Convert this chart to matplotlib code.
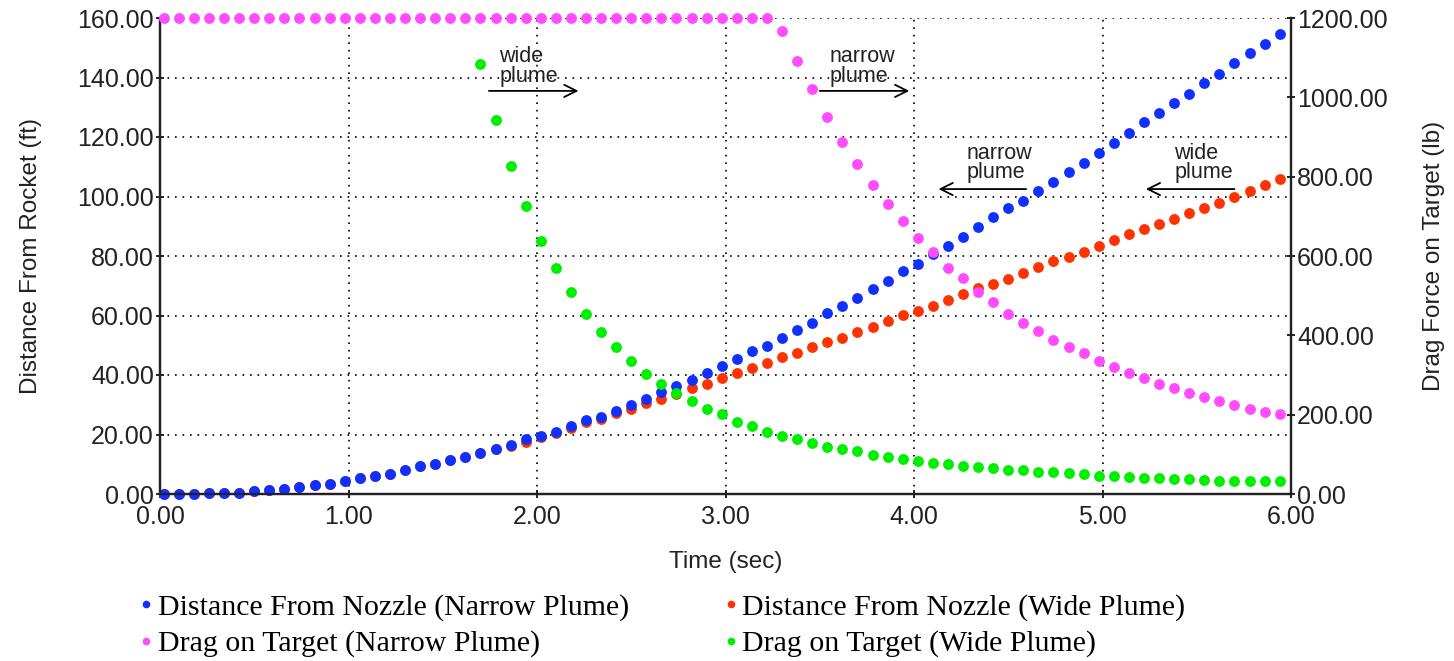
import numpy as np
import matplotlib.pyplot as plt
from matplotlib.lines import Line2D

# sample times (sec): 75 samples, 0.08 s apart
time = np.round(0.02 + 0.08 * np.arange(75), 2)

dist_narrow = [0.0, 0.0, 0.0, 0.2, 0.3, 0.4, 1.0, 1.5, 1.8, 2.4, 2.9, 3.5, 4.5, 5.5, 6.2,
               6.8, 8.1, 9.3, 10.0, 11.4, 12.5, 13.9, 15.1, 16.5, 18.4, 19.6, 20.9, 22.9,
               24.9, 26.0, 28.0, 29.9, 31.9, 34.4, 36.4, 38.3, 40.8, 43.0, 45.4, 48.1,
               49.9, 52.6, 55.1, 57.6, 61.0, 63.3, 66.0, 69.0, 71.7, 74.9, 77.4, 80.6,
               83.3, 86.3, 89.6, 93.0, 96.0, 98.6, 102.0, 105.0, 108.3, 111.4, 114.7,
               117.9, 121.2, 124.9, 128.2, 131.3, 134.5, 138.0, 141.1, 144.8, 148.1,
               151.3, 154.5]
dist_wide = [0.0, 0.0, 0.0, 0.2, 0.3, 0.4, 1.0, 1.5, 1.8, 2.4, 2.9, 3.5, 4.5, 5.5, 6.2,
             6.8, 8.1, 9.3, 10.0, 11.4, 12.5, 13.9, 15.0, 16.3, 17.4, 19.3, 20.5, 22.1,
             24.1, 25.1, 27.1, 28.6, 30.5, 31.8, 33.6, 35.7, 37.1, 39.0, 40.8, 42.2,
             43.9, 45.9, 47.3, 49.3, 51.2, 52.3, 54.3, 56.2, 58.2, 60.2, 61.5, 63.3,
             65.2, 67.2, 69.1, 70.5, 72.3, 74.2, 76.2, 78.4, 79.6, 81.5, 83.4, 85.4,
             87.3, 89.0, 90.8, 92.4, 94.3, 96.0, 97.9, 99.9, 101.8, 103.9, 105.8]
drag_narrow = [1200] * 41 + [1168, 1092, 1020, 951, 888, 832, 779, 731, 689, 645, 609,
                             571, 544, 508, 485, 455, 432, 412, 388, 370, 355, 335, 321,
                             306, 292, 277, 268, 254, 244, 234, 224, 214, 206, 201]
drag_wide = [np.nan] * 21 + [1083, 943, 828, 726, 638, 571, 508, 455, 408, 370, 335, 302,
                             278, 254, 234, 214, 201, 182, 171, 157, 147, 138, 128, 118,
                             113, 109, 98, 94, 88, 84, 79, 75, 71, 69, 65, 61, 60, 56,
                             55, 52, 50, 46, 45, 42, 41, 40, 37, 37, 36, 34, 33, 33, 32, 32]

labels = ['Distance From Nozzle (Narrow Plume)', 'Distance From Nozzle (Wide Plume)',
          'Drag on Target (Narrow Plume)', 'Drag on Target (Wide Plume)']
colors = ['#1030ff', '#ff3300', '#ff4cff', '#00ee00']

# plume notes: text position, arrow start, arrow end (time, distance)
notes = [('wide\nplume', (1.80, 150.5), (1.745, 135.5), (2.22, 135.5)),
         ('narrow\nplume', (3.55, 150.5), (3.50, 135.5), (3.975, 135.5)),
         ('narrow\nplume', (4.28, 118.0), (4.595, 102.5), (4.13, 102.5)),
         ('wide\nplume', (5.38, 118.0), (5.70, 102.5), (5.23, 102.5))]

SANS = 'Liberation Sans'
SERIF = 'Liberation Serif'
INK = '#222222'


def fmt(v, pos):
    return '%.2f' % v


def plot_chart():
    fig = plt.figure(figsize=(14.54, 6.61), dpi=100)
    ax = fig.add_axes([160 / 1454, 1 - 494 / 661, 1131 / 1454, 476 / 661])
    ax2 = ax.twinx()

    ms = 7.8
    ax.plot(time, dist_wide, 'o', color=colors[1], ms=ms, mew=0, clip_on=False, zorder=3)
    ax.plot(time, dist_narrow, 'o', color=colors[0], ms=ms, mew=0, clip_on=False, zorder=4)
    ax2.plot(time, drag_narrow, 'o', color=colors[2], ms=ms, mew=0, clip_on=False, zorder=3)
    ax2.plot(time, drag_wide, 'o', color=colors[3], ms=ms, mew=0, clip_on=False, zorder=4)

    ax.set_xlim(0, 6)
    ax.set_ylim(0, 160)
    ax2.set_ylim(0, 1200)
    ax.set_xticks(np.arange(0, 7, 1))
    ax.set_yticks(np.arange(0, 161, 20))
    ax2.set_yticks(np.arange(0, 1201, 200))
    for a in (ax.xaxis, ax.yaxis, ax2.yaxis):
        a.set_major_formatter(plt.FuncFormatter(fmt))

    ax.grid(True, color='black', linestyle=(0, (1, 3.5)), linewidth=1.2)
    ax.set_axisbelow(True)

    for a in (ax, ax2):
        a.spines['top'].set_visible(False)
        for s in ('left', 'right', 'bottom'):
            a.spines[s].set_linewidth(1.6)
            a.spines[s].set_color(INK)
        a.tick_params(direction='inout', length=6, width=1.4, color=INK,
                      labelsize=18, labelcolor=INK)
        a.tick_params(axis='y', pad=1.5)
        a.tick_params(axis='x', pad=5)
        for t in a.get_xticklabels() + a.get_yticklabels():
            t.set_family(SANS)

    ax.set_xlabel('Time (sec)', fontsize=17.5, family=SANS, color=INK)
    ax.set_ylabel('Distance From Rocket (ft)', fontsize=17.5, family=SANS, color=INK)
    ax2.set_ylabel('Drag Force on Target (lb)', fontsize=17.5, family=SANS, color=INK)
    ax.xaxis.set_label_coords(0.5, -0.12)
    ax.yaxis.set_label_coords(-0.1044, 0.5)
    ax2.yaxis.set_label_coords(1.1166, 0.5)

    for text, tpos, start, end in notes:
        ax.text(tpos[0], tpos[1], text, fontsize=15.5, family=SANS, ha='left', va='top',
                linespacing=0.9, color=INK, zorder=6)
        ax.annotate('', xy=end, xytext=start, zorder=6,
                    arrowprops=dict(arrowstyle='->', lw=1.3, color='black',
                                    mutation_scale=22, shrinkA=0, shrinkB=0))

    order = [0, 2, 1, 3]
    handles = [Line2D([], [], linestyle='none', marker='o', ms=5.5, mew=0, color=colors[i])
               for i in order]
    fig.legend(handles, [labels[i] for i in order], loc='upper left',
               bbox_to_anchor=(139 / 1454, 1 - 594 / 661), ncol=2, frameon=False,
               prop={'family': SERIF, 'size': 21.5}, borderpad=0, borderaxespad=0,
               handlelength=0.5, handletextpad=0.13, columnspacing=3.15, labelspacing=0.3)

    fig.savefig('out.png', dpi=100)


if __name__ == '__main__':
    plot_chart()
